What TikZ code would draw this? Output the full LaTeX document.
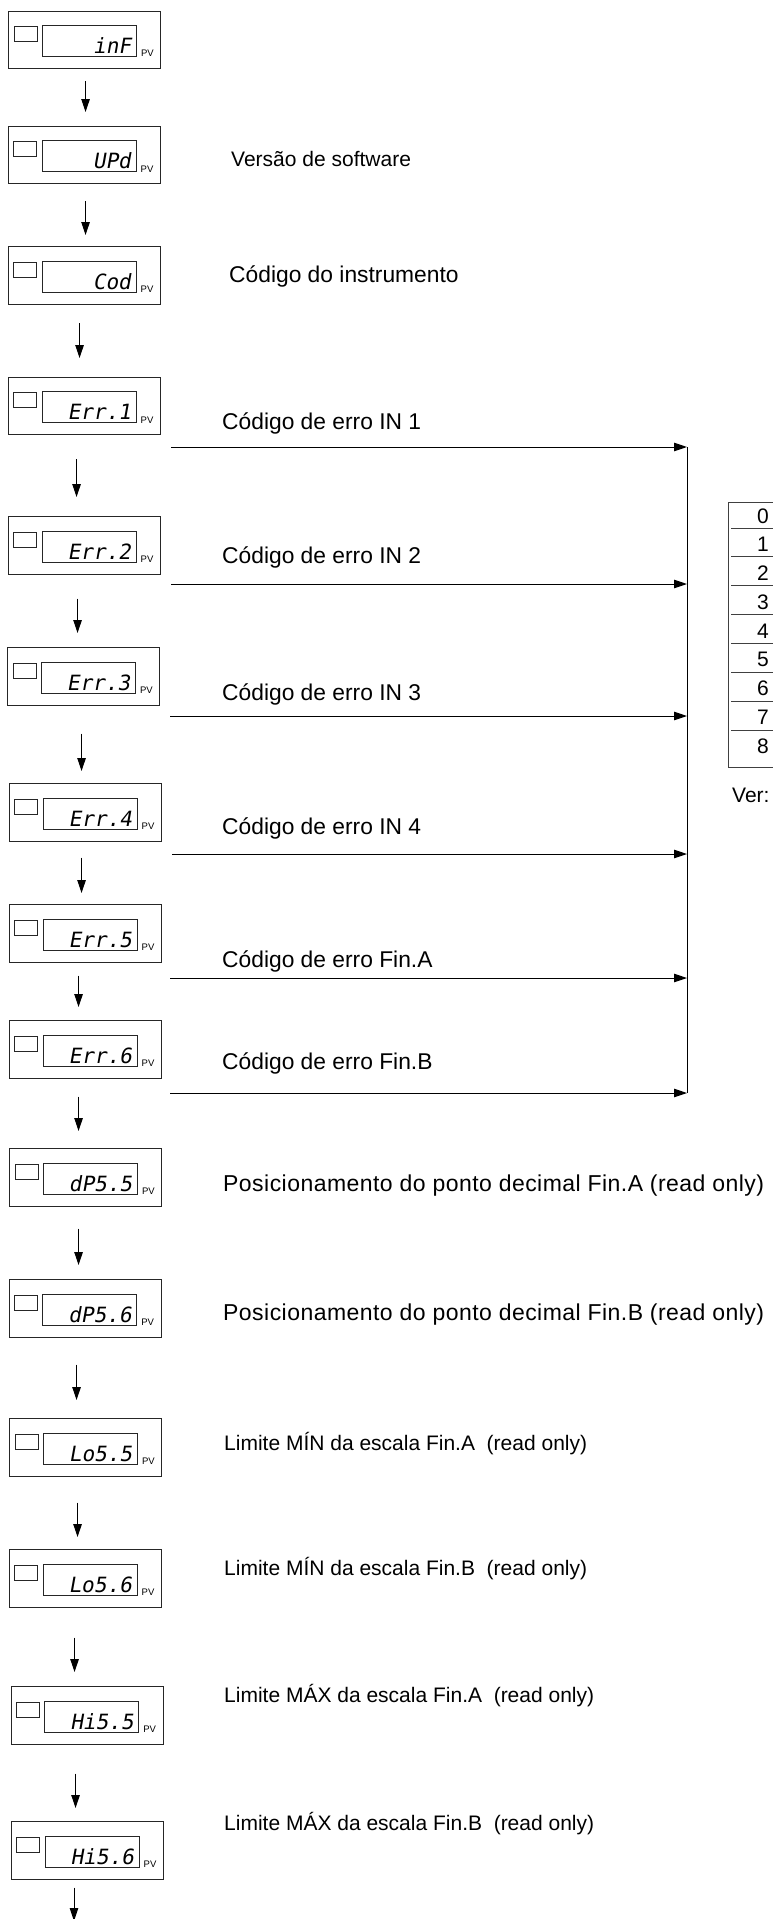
\documentclass[tikz,border=0pt]{standalone}
\usepackage{fontspec}
\setmainfont{Liberation Sans}
\newfontfamily\segfont[FakeSlant=0.18]{DejaVu Sans Mono}
\usetikzlibrary{arrows.meta,calc}

% one display panel: name, left, top, shown text
\newcommand\panel[4]{%
  \node[panel,anchor=north west] (#1) at (#2,#3) {};
  \draw[win] ([shift={(5.7,16)}]#1.north west) rectangle ++(23,15);
  \draw[win] ([shift={(34,15)}]#1.north west) rectangle ++(94,31);
  \node[seg,anchor=base east] (#1-v) at ([shift={(123,43)}]#1.north west) {#4};
  \node[pv,anchor=base west] (#1-pv) at ([shift={(132.5,46.3)}]#1.north west) {PV};
}

\begin{document}
\begin{tikzpicture}[x=1pt,y=-1pt,
  panel/.style={draw=black!85,line width=1.1pt,minimum width=152pt,minimum height=57.5pt,inner sep=0pt},
  win/.style={draw=black!85,line width=0.9pt},
  seg/.style={font=\segfont\fontsize{21}{21}\selectfont,inner sep=0pt},
  pv/.style={font=\fontsize{9.5}{10}\selectfont,inner sep=0pt},
  lbl/.style={font=\fontsize{21}{25}\selectfont,inner sep=0pt,anchor=base west},
  lblb/.style={lbl,font=\fontsize{22.8}{26}\selectfont},
  lblc/.style={lbl,font=\fontsize{23}{27}\selectfont\addfontfeature{LetterSpace=2}},
  flow/.style={line width=1pt,-{Triangle[length=13pt,width=8.5pt]}},
  tline/.style={line width=0.9pt,black!75}]

\useasboundingbox (0,0) rectangle (773,1919);
\clip (0,0) rectangle (773,1919);

% panels
\panel{inf}{8.3}{10.7}{inF}
\panel{upd}{8}{125.7}{UPd}
\panel{cod}{8}{246}{Cod}
\panel{er1}{8}{376.7}{Err.1}
\panel{er2}{8}{516}{Err.2}
\panel{er3}{7.3}{647}{Err.3}
\panel{er4}{9}{783}{Err.4}
\panel{er5}{9}{904}{Err.5}
\panel{er6}{9}{1020}{Err.6}
\panel{dpa}{9.3}{1148}{dP5.5}
\panel{dpb}{8.7}{1279}{dP5.6}
\panel{loa}{9.3}{1418}{Lo5.5}
\panel{lob}{9}{1549}{Lo5.6}
\panel{hia}{10.7}{1686}{Hi5.5}
\panel{hib}{11}{1821}{Hi5.6}

% labels
\node[lbl] (t2) at (231,166) {Versão de software};
\node[lblb] (t3) at (229,282) {Código do instrumento};
\node[lblb] (t4) at (222,429) {Código de erro IN 1};
\node[lblb] (t5) at (222,563) {Código de erro IN 2};
\node[lblb] (t6) at (222,700) {Código de erro IN 3};
\node[lblb] (t7) at (222,834) {Código de erro IN 4};
\node[lblb] (t8) at (222,967) {Código de erro Fin.A};
\node[lblb] (t9) at (222,1069) {Código de erro Fin.B};
\node[lblc] (t10) at (223,1191) {Posicionamento do ponto decimal Fin.A (read only)};
\node[lblc] (t11) at (223,1320) {Posicionamento do ponto decimal Fin.B (read only)};
\node[lbl] (t12) at (224,1450) {Limite MÍN da escala Fin.A\ \ (read only)};
\node[lbl] (t13) at (224,1575) {Limite MÍN da escala Fin.B\ \ (read only)};
\node[lbl] (t14) at (224,1702) {Limite MÁX da escala Fin.A\ \ (read only)};
\node[lbl] (t15) at (224,1830) {Limite MÁX da escala Fin.B\ \ (read only)};

% main sequence
\coordinate (out) at (74,1921);
\draw[flow,shorten <=11.7pt,shorten >=13.7pt] ([xshift=0.7pt]inf.south) -- ([xshift=0.7pt]inf.south |- upd.north);
\draw[flow,shorten <=16.7pt,shorten >=11pt] ([xshift=1pt]upd.south) -- ([xshift=1pt]upd.south |- cod.north);
\draw[flow,shorten <=18.7pt,shorten >=18.7pt] ([xshift=-5pt]cod.south) -- ([xshift=-5pt]cod.south |- er1.north);
\draw[flow,shorten <=23.7pt,shorten >=19pt] ([xshift=-8pt]er1.south) -- ([xshift=-8pt]er1.south |- er2.north);
\draw[flow,shorten <=24pt,shorten >=14pt] ([xshift=-7pt]er2.south) -- ([xshift=-7pt]er2.south |- er3.north);
\draw[flow,shorten <=28pt,shorten >=12pt] ([xshift=-2.3pt]er3.south) -- ([xshift=-2.3pt]er3.south |- er4.north);
\draw[flow,shorten <=16pt,shorten >=11pt] ([xshift=-4pt]er4.south) -- ([xshift=-4pt]er4.south |- er5.north);
\draw[flow,shorten <=13pt,shorten >=13pt] ([xshift=-7pt]er5.south) -- ([xshift=-7pt]er5.south |- er6.north);
\draw[flow,shorten <=18pt,shorten >=17pt] ([xshift=-7pt]er6.south) -- ([xshift=-7pt]er6.south |- dpa.north);
\draw[flow,shorten <=22pt,shorten >=14pt] ([xshift=-7.3pt]dpa.south) -- ([xshift=-7.3pt]dpa.south |- dpb.north);
\draw[flow,shorten <=27pt,shorten >=18pt] ([xshift=-8.7pt]dpb.south) -- ([xshift=-8.7pt]dpb.south |- loa.north);
\draw[flow,shorten <=26pt,shorten >=12pt] ([xshift=-8.3pt]loa.south) -- ([xshift=-8.3pt]loa.south |- lob.north);
\draw[flow,shorten <=30pt,shorten >=14pt] ([xshift=-11pt]lob.south) -- ([xshift=-11pt]lob.south |- hia.north);
\draw[flow,shorten <=29pt,shorten >=13pt] ([xshift=-11.7pt]hia.south) -- ([xshift=-11.7pt]hia.south |- hib.north);
\draw[flow,shorten <=8pt] (hib.south -| out) -- (out);

% error codes into the bus
\coordinate (bus1) at (687,447);
\coordinate (bus2) at (687,584);
\coordinate (bus3) at (687,716);
\coordinate (bus4) at (687,854);
\coordinate (bus5) at (687,978);
\coordinate (bus6) at (687,1093);
\draw[line width=1pt] (bus1) -- (bus6);
\draw[flow] ([xshift=10pt]er1.east |- bus1) -- (bus1);
\draw[flow] ([xshift=10pt]er2.east |- bus2) -- (bus2);
\draw[flow] ([xshift=10pt]er3.east |- bus3) -- (bus3);
\draw[flow] ([xshift=10pt]er4.east |- bus4) -- (bus4);
\draw[flow] ([xshift=8pt]er5.east |- bus5) -- (bus5);
\draw[flow] ([xshift=8pt]er6.east |- bus6) -- (bus6);

% code table
\draw[tline] (728,502) rectangle (800,767);
\foreach \i in {0,...,7}
  \draw[tline] (731,{528+28.86*\i}) -- (800,{528+28.86*\i});
\foreach \d in {0,...,8}
  \node[font=\fontsize{21}{25}\selectfont,inner sep=0pt] (d\d) at (763,{516+28.75*\d}) {\d};
\node[lbl] (ver) at (732,802) {Ver:};

\end{tikzpicture}
\end{document}
